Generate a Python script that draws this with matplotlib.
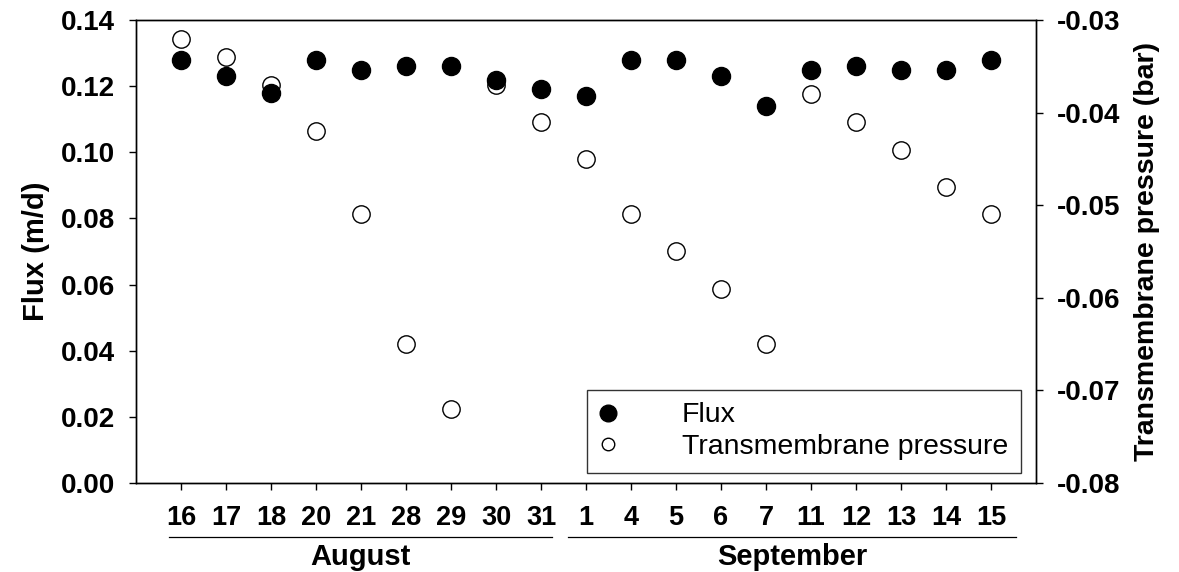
import matplotlib.pyplot as plt
from matplotlib.ticker import FormatStrFormatter
from matplotlib.lines import Line2D

# dados
dias = ['16', '17', '18', '20', '21', '28', '29', '30', '31',
        '1', '4', '5', '6', '7', '11', '12', '13', '14', '15']
fluxo = [0.128, 0.123, 0.118, 0.128, 0.125, 0.126, 0.126, 0.122, 0.119,
         0.117, 0.128, 0.128, 0.123, 0.114, 0.125, 0.126, 0.125, 0.125, 0.128]
pressao = [-0.032, -0.034, -0.037, -0.042, -0.051, -0.065, -0.072, -0.037, -0.041,
           -0.045, -0.051, -0.055, -0.059, -0.065, -0.038, -0.041, -0.044, -0.048, -0.051]
meses = ['August', 'September']
n_agosto = 9

plt.rcParams['font.family'] = ['Liberation Sans', 'DejaVu Sans']

fig = plt.figure(figsize=(11.79, 5.72), dpi=100)
ax = fig.add_axes([136 / 1179, 1 - 483 / 572, 900 / 1179, 463 / 572])
ax2 = ax.twinx()

x = list(range(len(dias)))

# pontos abertos (pressao) atras dos pontos cheios (fluxo)
ax2.plot(x, pressao, 'o', ms=12.5, mfc='white', mec='black', mew=1.0, ls='none')
ax.plot(x, fluxo, 'o', ms=13, mfc='black', mec='black', ls='none')
ax.set_zorder(ax2.get_zorder() + 1)
ax.patch.set_visible(False)

ax.set_xlim(-1, len(dias))
ax.set_ylim(0, 0.14)
ax.set_yticks([0, 0.02, 0.04, 0.06, 0.08, 0.10, 0.12, 0.14])
ax.yaxis.set_major_formatter(FormatStrFormatter('%.2f'))
ax2.set_ylim(-0.08, -0.03)
ax2.set_yticks([-0.08, -0.07, -0.06, -0.05, -0.04, -0.03])
ax2.yaxis.set_major_formatter(FormatStrFormatter('%.2f'))

ax.set_xticks(x)
ax.set_xticklabels(dias, fontweight='bold', fontsize=19.5)
for t in ax.get_yticklabels():
    t.set_fontweight('bold')
for t in ax2.get_yticklabels():
    t.set_fontweight('bold')

ax.tick_params(axis='x', direction='out', length=5, width=1, pad=11)
ax.tick_params(axis='y', direction='out', length=5, width=1, pad=10, labelsize=20)
ax2.tick_params(axis='y', direction='out', length=5, width=1, pad=10, labelsize=20)

for a in (ax, ax2):
    for s in a.spines.values():
        s.set_linewidth(1.0)

ax.set_ylabel('Flux (m/d)', fontsize=21, fontweight='bold', labelpad=8)
ax2.set_ylabel('Transmembrane pressure (bar)', fontsize=20.5, fontweight='bold', labelpad=10)

# linhas e nomes dos meses abaixo do eixo
trans = ax.get_xaxis_transform()
grupos = [(-0.27, n_agosto - 0.76), (n_agosto - 0.41, len(dias) - 0.44)]
for nome, (x0, x1) in zip(meses, grupos):
    ax.plot([x0, x1], [-0.117, -0.117], color='black', lw=0.9,
            transform=trans, clip_on=False)
    ax.text((x0 + x1) / 2, -0.16, nome, transform=trans, ha='center', va='center',
            fontsize=21, fontweight='bold')

handles = [Line2D([], [], marker='o', ls='none', ms=12, mfc='black', mec='black'),
           Line2D([], [], marker='o', ls='none', ms=9, mfc='white', mec='black')]
leg = ax.legend(handles, ['Flux', 'Transmembrane pressure'], loc='lower right',
                bbox_to_anchor=(1021 / 1179, 1 - 473 / 572), bbox_transform=fig.transFigure,
                fontsize=20.5, frameon=True, fancybox=False, edgecolor='black',
                borderpad=0.45, handletextpad=2.3, labelspacing=0.2, borderaxespad=0,
                handlelength=0.6)
leg.get_frame().set_linewidth(1.0)

fig.savefig('out.png', dpi=100)
